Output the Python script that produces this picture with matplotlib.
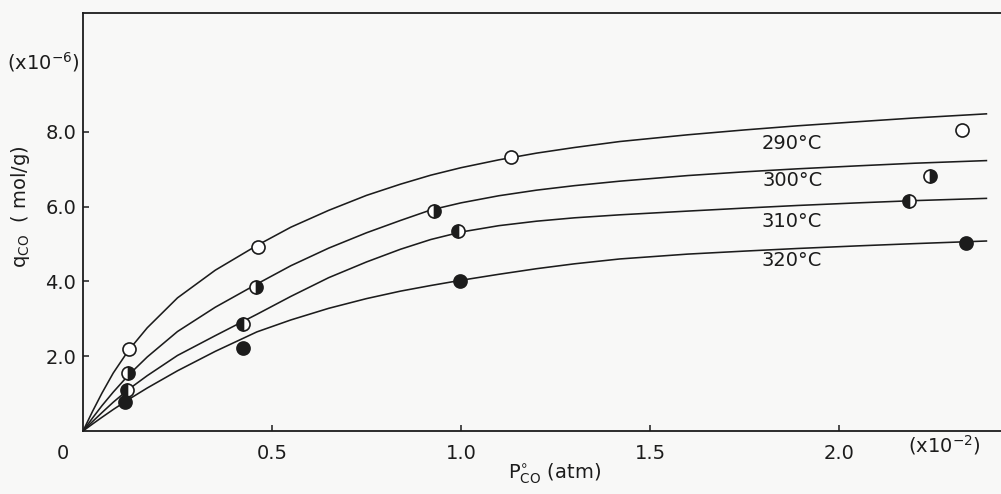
import matplotlib.pyplot as plt

# isotherm curves: P in 1e-2 atm, q in 1e-6 mol/g
p_curve = [0, 0.025, 0.05, 0.08, 0.12, 0.17, 0.25, 0.35, 0.46, 0.55, 0.65, 0.75,
           0.84, 0.92, 1.0, 1.1, 1.2, 1.3, 1.42, 1.6, 1.75, 1.89, 2.05, 2.2, 2.39]
q_290 = [0, 0.52, 1.01, 1.55, 2.15, 2.76, 3.56, 4.30, 4.96, 5.45, 5.90, 6.30,
         6.60, 6.84, 7.04, 7.25, 7.43, 7.58, 7.74, 7.92, 8.05, 8.16, 8.27, 8.37, 8.48]
q_300 = [0, 0.345, 0.675, 1.04, 1.49, 1.98, 2.66, 3.31, 3.93, 4.42, 4.89, 5.30,
         5.63, 5.91, 6.10, 6.29, 6.44, 6.56, 6.68, 6.83, 6.93, 7.01, 7.09, 7.16, 7.23]
q_310 = [0, 0.25, 0.49, 0.77, 1.11, 1.48, 2.02, 2.55, 3.12, 3.60, 4.10, 4.52,
         4.86, 5.12, 5.32, 5.49, 5.61, 5.70, 5.78, 5.88, 5.96, 6.03, 6.10, 6.16, 6.22]
q_320 = [0, 0.185, 0.365, 0.575, 0.84, 1.15, 1.61, 2.13, 2.65, 2.97, 3.28, 3.54,
         3.74, 3.89, 4.03, 4.19, 4.34, 4.47, 4.60, 4.73, 4.81, 4.88, 4.95, 5.01, 5.08]

# measured points
pt_p_290 = [0.122, 0.462, 1.132, 2.325]
pt_q_290 = [2.19, 4.93, 7.33, 8.06]
pt_p_300 = [0.118, 0.457, 0.929, 2.241]
pt_q_300 = [1.55, 3.85, 5.87, 6.81]
pt_p_310 = [0.116, 0.424, 0.991, 2.184]
pt_q_310 = [1.09, 2.85, 5.36, 6.16]
pt_p_320 = [0.111, 0.424, 0.997, 2.336]
pt_q_320 = [0.78, 2.23, 4.01, 5.03]

temps = ['290°C', '300°C', '310°C', '320°C']
label_y = [7.70, 6.71, 5.60, 4.57]

xticks = [0.5, 1.0, 1.5, 2.0]
xticklabels = ['0.5', '1.0', '1.5', '2.0']
yticks = [2.0, 4.0, 6.0, 8.0]
yticklabels = ['2.0', '4.0', '6.0', '8.0']

ink = '#1c1c1c'
bg = '#f8f8f7'

plt.rcParams['font.family'] = ['DejaVu Sans']
plt.rcParams['font.size'] = 14
plt.rcParams['mathtext.default'] = 'regular'

fig = plt.figure(figsize=(10.01, 4.94), dpi=100, facecolor=bg)
ax = fig.add_axes([83 / 1001, 63 / 494, 918 / 1001, 418 / 494])
ax.set_facecolor(bg)

for q in [q_290, q_300, q_310, q_320]:
    ax.plot(p_curve, q, color=ink, lw=1.15, zorder=2)

ms = 9.4
ax.plot(pt_p_290, pt_q_290, 'o', ms=ms, mec=ink, mew=1.2, mfc='white', zorder=3)
ax.plot(pt_p_300, pt_q_300, 'o', ms=ms, mec=ink, mew=1.2, mfc=ink,
        fillstyle='right', markerfacecoloralt='white', zorder=3)
ax.plot(pt_p_310, pt_q_310, 'o', ms=ms, mec=ink, mew=1.2, mfc=ink,
        fillstyle='left', markerfacecoloralt='white', zorder=3)
ax.plot(pt_p_320, pt_q_320, 'o', ms=ms, mec=ink, mew=1.2, mfc=ink, zorder=3)

for t, y in zip(temps, label_y):
    ax.text(1.876, y, t, ha='center', va='center', color=ink, fontsize=14)

ax.set_xlim(0, 918 / 378)
ax.set_ylim(0, 418 / 37.4)
ax.set_xticks(xticks)
ax.set_xticklabels(xticklabels)
ax.set_yticks(yticks)
ax.set_yticklabels(yticklabels)
ax.tick_params(direction='in', length=4.5, width=1.1, colors=ink, labelsize=14)
ax.tick_params(axis='x', pad=9)
ax.tick_params(axis='y', pad=5)

ax.spines['right'].set_visible(False)
for s in ['left', 'bottom', 'top']:
    ax.spines[s].set_linewidth(1.3)
    ax.spines[s].set_color(ink)

ax.set_xlabel(r'$P^{\circ}_{CO}$ (atm)', color=ink, fontsize=14)
ax.xaxis.set_label_coords(0.514, -0.074)
ax.set_ylabel(r'$q_{CO}$  ( mol/g)', color=ink, fontsize=14)
ax.yaxis.set_label_coords(-0.056, 0.536)

ax.text(-20 / 378, -22 / 37.4, '0', ha='center', va='center', color=ink, clip_on=False)
ax.text(2.28, -0.37, r'(x10$^{-2}$)', ha='center', va='center', color=ink, clip_on=False)
ax.text(-40 / 378, 9.87, r'(x10$^{-6}$)', ha='center', va='center', color=ink, clip_on=False)

fig.savefig('out.png', dpi=100, facecolor=bg)
